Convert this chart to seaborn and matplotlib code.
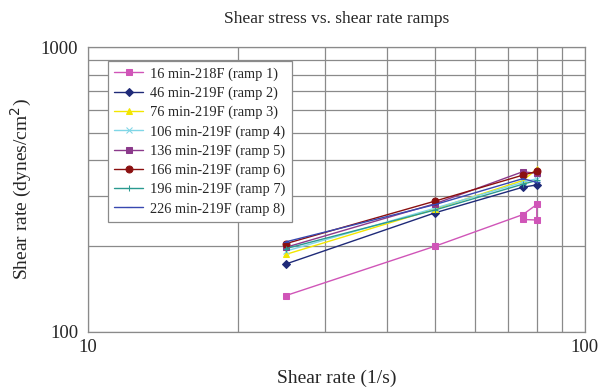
import numpy as np
import pandas as pd
import matplotlib
matplotlib.use("Agg")
import matplotlib.pyplot as plt
from matplotlib.ticker import LogLocator, NullFormatter, FixedLocator, FixedFormatter
import seaborn as sns

sns.set_style("white")
plt.rcParams["font.family"] = ["Liberation Serif", "DejaVu Serif"]

# Shear rate steps (1/s) and measured shear stress (dynes/cm^2) for each ramp
labels = [
    "16 min-218F (ramp 1)",
    "46 min-219F (ramp 2)",
    "76 min-219F (ramp 3)",
    "106 min-219F (ramp 4)",
    "136 min-219F (ramp 5)",
    "166 min-219F (ramp 6)",
    "196 min-219F (ramp 7)",
    "226 min-219F (ramp 8)",
]
rate_ramp1 = [25, 50, 75, 80, 80, 75]
stress_ramp1 = [134, 200, 258, 280, 247, 248]
rate = [25, 50, 75, 80]
stress_ramp2 = [173, 262, 322, 328]
stress_ramp3 = [187, 270, 340, 372]
stress_ramp4 = [192, 272, 335, 345]
stress_ramp5 = [198, 282, 365, 360]
stress_ramp6 = [204, 288, 355, 366]
stress_ramp7 = [196, 268, 330, 340]
stress_ramp8 = [207, 280, 345, 335]

series = [
    (rate_ramp1, stress_ramp1),
    (rate, stress_ramp2),
    (rate, stress_ramp3),
    (rate, stress_ramp4),
    (rate, stress_ramp5),
    (rate, stress_ramp6),
    (rate, stress_ramp7),
    (rate, stress_ramp8),
]
colors = ["#D055B8", "#1F2A78", "#F2E600", "#7FD6E6", "#8B3A8B", "#8B1010", "#2A9A90", "#3848B0"]
markers = ["s", "D", "^", "x", "s", "o", "+", "_"]
msizes = [5, 4, 5, 5, 5, 5, 5, 5]

fig = plt.figure(figsize=(6.03, 3.89), dpi=100)
ax = fig.add_axes([0.146, 0.147, 0.824, 0.732])

for (x, y), lab, c, m, ms in zip(series, labels, colors, markers, msizes):
    df = pd.DataFrame({"rate": x, "stress": y})
    sns.lineplot(data=df, x="rate", y="stress", sort=False, estimator=None,
                 color=c, marker=m, markersize=ms, markeredgecolor=c,
                 linewidth=1.0, label=lab, ax=ax)

ax.set_xscale("log")
ax.set_yscale("log")
ax.set_xlim(10, 100)
ax.set_ylim(100, 1000)

ax.xaxis.set_major_locator(FixedLocator([10, 100]))
ax.xaxis.set_major_formatter(FixedFormatter(["10", "100"]))
ax.yaxis.set_major_locator(FixedLocator([100, 1000]))
ax.yaxis.set_major_formatter(FixedFormatter(["100", "1000"]))
ax.xaxis.set_minor_locator(LogLocator(base=10, subs=np.arange(2, 10)))
ax.yaxis.set_minor_locator(LogLocator(base=10, subs=np.arange(2, 10)))
ax.xaxis.set_minor_formatter(NullFormatter())
ax.yaxis.set_minor_formatter(NullFormatter())

ax.grid(True, which="both", color="#8a8a8a", linewidth=0.9)
ax.set_axisbelow(True)
for s in ax.spines.values():
    s.set_color("#8a8a8a")
    s.set_linewidth(0.9)
ax.tick_params(axis="both", which="major", length=4, color="#8a8a8a",
               labelsize=13.5, direction="out", pad=3)
ax.tick_params(axis="x", which="major", pad=1)
ax.tick_params(axis="both", which="minor", length=0)

ax.set_title("Shear stress vs. shear rate ramps", fontsize=12.5, pad=17)
ax.set_xlabel("Shear rate (1/s)", fontsize=14, labelpad=10)
ax.set_ylabel("Shear rate (dynes/cm$^2$)", fontsize=14, labelpad=5)

leg = ax.legend(loc="upper left", bbox_to_anchor=(0.04, 0.952), borderaxespad=0,
                fontsize=10.4, frameon=True, fancybox=False, framealpha=1,
                edgecolor="#8a8a8a", handlelength=2.0, labelspacing=0.4,
                borderpad=0.45, handletextpad=0.45)
leg.get_frame().set_linewidth(0.9)

fig.savefig("out.png", dpi=100)
